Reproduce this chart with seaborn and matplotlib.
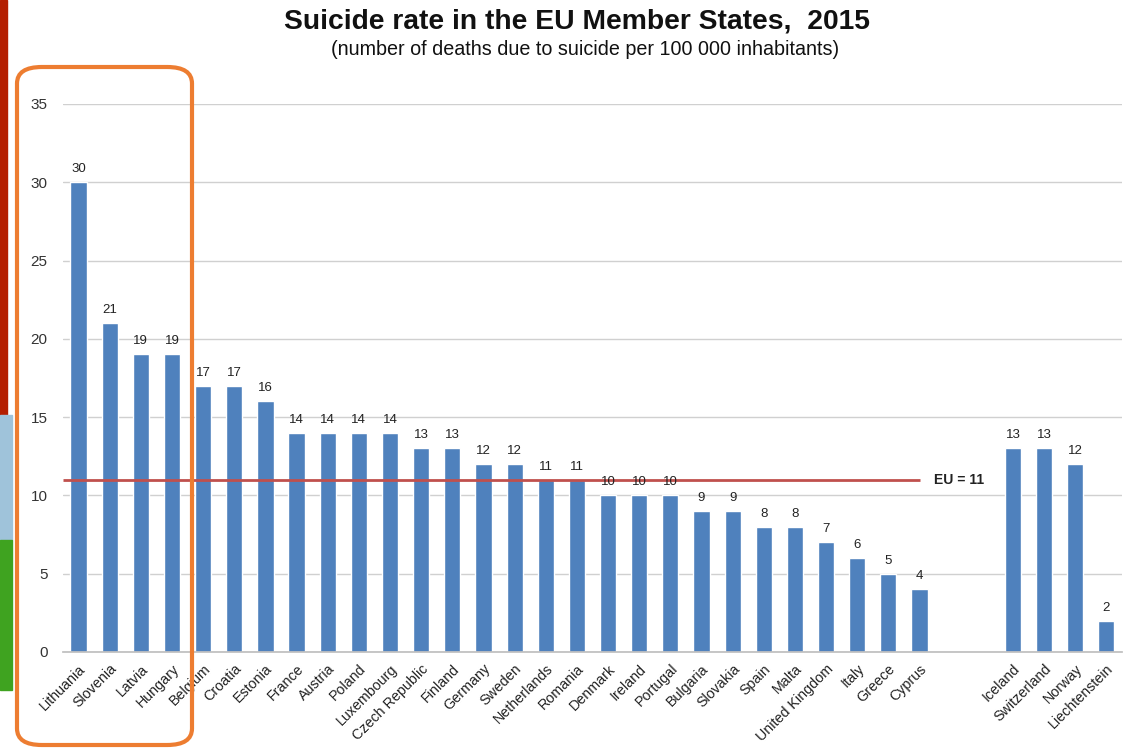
import matplotlib
matplotlib.use("Agg")
import matplotlib.pyplot as plt
import seaborn as sns
import pandas as pd
import numpy as np
from matplotlib.patches import FancyBboxPatch, Rectangle

eu_countries = ["Lithuania", "Slovenia", "Latvia", "Hungary", "Belgium", "Croatia", "Estonia",
                "France", "Austria", "Poland", "Luxembourg", "Czech Republic", "Finland",
                "Germany", "Sweden", "Netherlands", "Romania", "Denmark", "Ireland", "Portugal",
                "Bulgaria", "Slovakia", "Spain", "Malta", "United Kingdom", "Italy", "Greece",
                "Cyprus"]
eu_values = [30, 21, 19, 19, 17, 17, 16, 14, 14, 14, 14, 13, 13, 12, 12, 11, 11, 10, 10, 10,
             9, 9, 8, 8, 7, 6, 5, 4]
other_countries = ["Iceland", "Switzerland", "Norway", "Liechtenstein"]
other_values = [13, 13, 12, 2]
gap_slots = [" ", "  "]
eu_average = 11

countries = eu_countries + other_countries
values = eu_values + other_values
order = eu_countries + gap_slots + other_countries
df = pd.DataFrame({"country": countries, "rate": values})

sns.set_theme(style="white")
plt.rcParams["font.family"] = ["Liberation Sans", "DejaVu Sans"]

fig = plt.figure(figsize=(11.31, 7.5), dpi=100)
ax = fig.add_axes([0.0557, 0.1307, 0.9363, 0.7307])

bar_color = "#4F81BD"
sns.barplot(data=df, x="country", y="rate", order=order, color=bar_color,
            width=0.52, saturation=1, ax=ax, errorbar=None)

ax.set_ylim(0, 35)
ax.set_xlim(-0.5, len(order) - 0.5)
ax.set_yticks(np.arange(0, 36, 5))
ax.yaxis.grid(True, color="#D0D0D0", linewidth=1)
ax.set_axisbelow(True)
for s in ["top", "right", "left"]:
    ax.spines[s].set_visible(False)
ax.spines["bottom"].set_color("#BFBFBF")
ax.set_xlabel("")
ax.set_ylabel("")
ax.tick_params(axis="y", labelsize=11, colors="#333333", length=0, pad=11)
ax.tick_params(axis="x", labelsize=10.3, colors="#222222", length=0, pad=7)
ax.set_xticks(range(len(order)))
ax.set_xticklabels(order, rotation=45, ha="right", rotation_mode="anchor")
ax.set_xticks(np.arange(-0.5, len(order), 1), minor=True)
ax.tick_params(axis="x", which="minor", length=4, color="#BFBFBF", direction="out")

# value labels
for i, name in enumerate(order):
    if name in countries:
        v = values[countries.index(name)]
        ax.text(i, v + 0.45, f"{v}", ha="center", va="bottom", fontsize=9.5, color="#222222")

# EU average line
cyprus_idx = order.index("Cyprus")
ax.hlines(eu_average, -0.5, cyprus_idx, color="#C0504D", linewidth=2)
ax.text(cyprus_idx + 0.45, eu_average, f"EU = {eu_average}", ha="left", va="center",
        fontsize=10, fontweight="bold", color="#222222")

# titles
fig.text(0.51, 0.971, "Suicide rate in the EU Member States,  2015", ha="center", va="center",
         fontsize=20.3, fontweight="bold", color="#111111")
fig.text(0.517, 0.934, "(number of deaths due to suicide per 100 000 inhabitants)",
         ha="center", va="center", fontsize=14.2, color="#111111")

# slide decorations on the left edge
fig.patches.append(Rectangle((0, 1 - 415 / 750), 7 / 1131, 415 / 750, transform=fig.transFigure,
                             color="#B41E00", zorder=0))
fig.patches.append(Rectangle((0, 1 - 540 / 750), 12 / 1131, 125 / 750, transform=fig.transFigure,
                             color="#9FC3DA", zorder=0))
fig.patches.append(Rectangle((0, 1 - 690 / 750), 12 / 1131, 150 / 750, transform=fig.transFigure,
                             color="#3FA320", zorder=0))

# highlight box around the first four countries
box = FancyBboxPatch((17 / 1131, 1 - 745 / 750), 175 / 1131, 678 / 750,
                     boxstyle="round,pad=0,rounding_size=0.022", transform=fig.transFigure,
                     fill=False, edgecolor="#ED7D31", linewidth=3, zorder=10)
fig.patches.append(box)

fig.savefig("out.png", dpi=100)
